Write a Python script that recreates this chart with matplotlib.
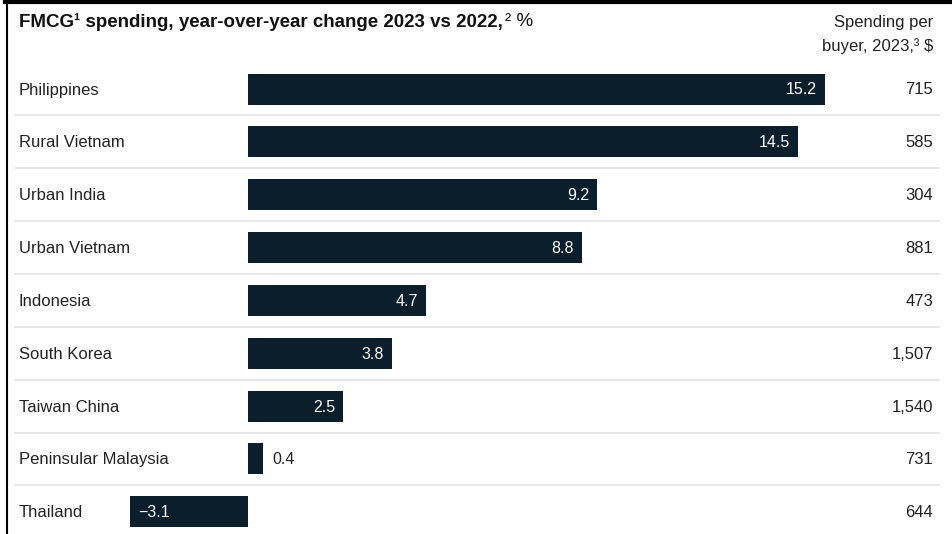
import matplotlib
matplotlib.use('Agg')
import matplotlib.pyplot as plt
from matplotlib.transforms import blended_transform_factory
from matplotlib.lines import Line2D

# data
markets = ['Philippines', 'Rural Vietnam', 'Urban India', 'Urban Vietnam', 'Indonesia',
           'South Korea', 'Taiwan China', 'Peninsular Malaysia', 'Thailand']
yoy_change = [15.2, 14.5, 9.2, 8.8, 4.7, 3.8, 2.5, 0.4, -3.1]
spend_per_buyer = ['715', '585', '304', '881', '473', '1,507', '1,540', '731', '644']

W, H = 952, 534
bar_col = '#0a1e2c'
txt_col = '#222222'
plt.rcParams['font.family'] = ['Liberation Sans', 'DejaVu Sans']

fig = plt.figure(figsize=(W / 100, H / 100), dpi=100)
ax = fig.add_axes([0, 0, 1, 1])
ax.axis('off')

# pixel layout -> data limits
zero_px, px_per_unit = 248, 577 / 15.2
row0_px, row_px = 89, 52.85
ax.set_xlim(-zero_px / px_per_unit, (W - zero_px) / px_per_unit)
ax.set_ylim((H - row0_px) / row_px, -row0_px / row_px)

rows = list(range(len(markets)))
ax.barh(rows, yoy_change, height=31 / row_px, color=bar_col, zorder=3)

tr = blended_transform_factory(ax.transAxes, ax.transData)
pad = 8 / px_per_unit
fs = 12
for i, (name, v, s) in enumerate(zip(markets, yoy_change, spend_per_buyer)):
    y = i + 1 / row_px
    ax.text(19 / W, y, name, transform=tr, ha='left', va='center', fontsize=fs, color=txt_col)
    ax.text(933 / W, y, s, transform=tr, ha='right', va='center', fontsize=fs, color=txt_col)
    if v >= 1:
        ax.text(v - pad, y, f'{v}', ha='right', va='center', fontsize=11.5, color='white', zorder=4)
    elif v < 0:
        ax.text(v + pad, y, f'\u2212{abs(v)}', ha='left', va='center', fontsize=11.5, color='white', zorder=4)
    else:
        ax.text(v + 9 / px_per_unit, y, f'{v}', ha='left', va='center', fontsize=11.5, color=txt_col)

# row separators
for i in rows[:-1]:
    ax.plot([15 / W, 939 / W], [i + 0.5, i + 0.5], transform=tr, color='#e3e3e3', lw=1.2, zorder=1)

# header
t1 = fig.text(19 / W, 1 - 22 / H, 'FMCG\u00b9 spending, year-over-year change 2023 vs 2022,',
              ha='left', va='center', fontsize=13.5, fontweight='bold', color='#111111')
fig.canvas.draw()
bb = t1.get_window_extent()
fig.text((bb.x1 + 2) / W, 1 - 22 / H, '\u00b2 %', ha='left', va='center', fontsize=13.5, color='#111111')
fig.text(933 / W, 1 - 23 / H, 'Spending per', ha='right', va='center', fontsize=fs, color=txt_col)
fig.text(933 / W, 1 - 46 / H, 'buyer, 2023,\u00b3 $', ha='right', va='center', fontsize=fs, color=txt_col)

# frame lines top and left
fig.add_artist(Line2D([5 / W, 1], [1 - 2 / H, 1 - 2 / H], color='black', lw=3))
fig.add_artist(Line2D([7 / W, 7 / W], [0, 1], color='black', lw=1.5))

fig.savefig('out.png', dpi=100)
